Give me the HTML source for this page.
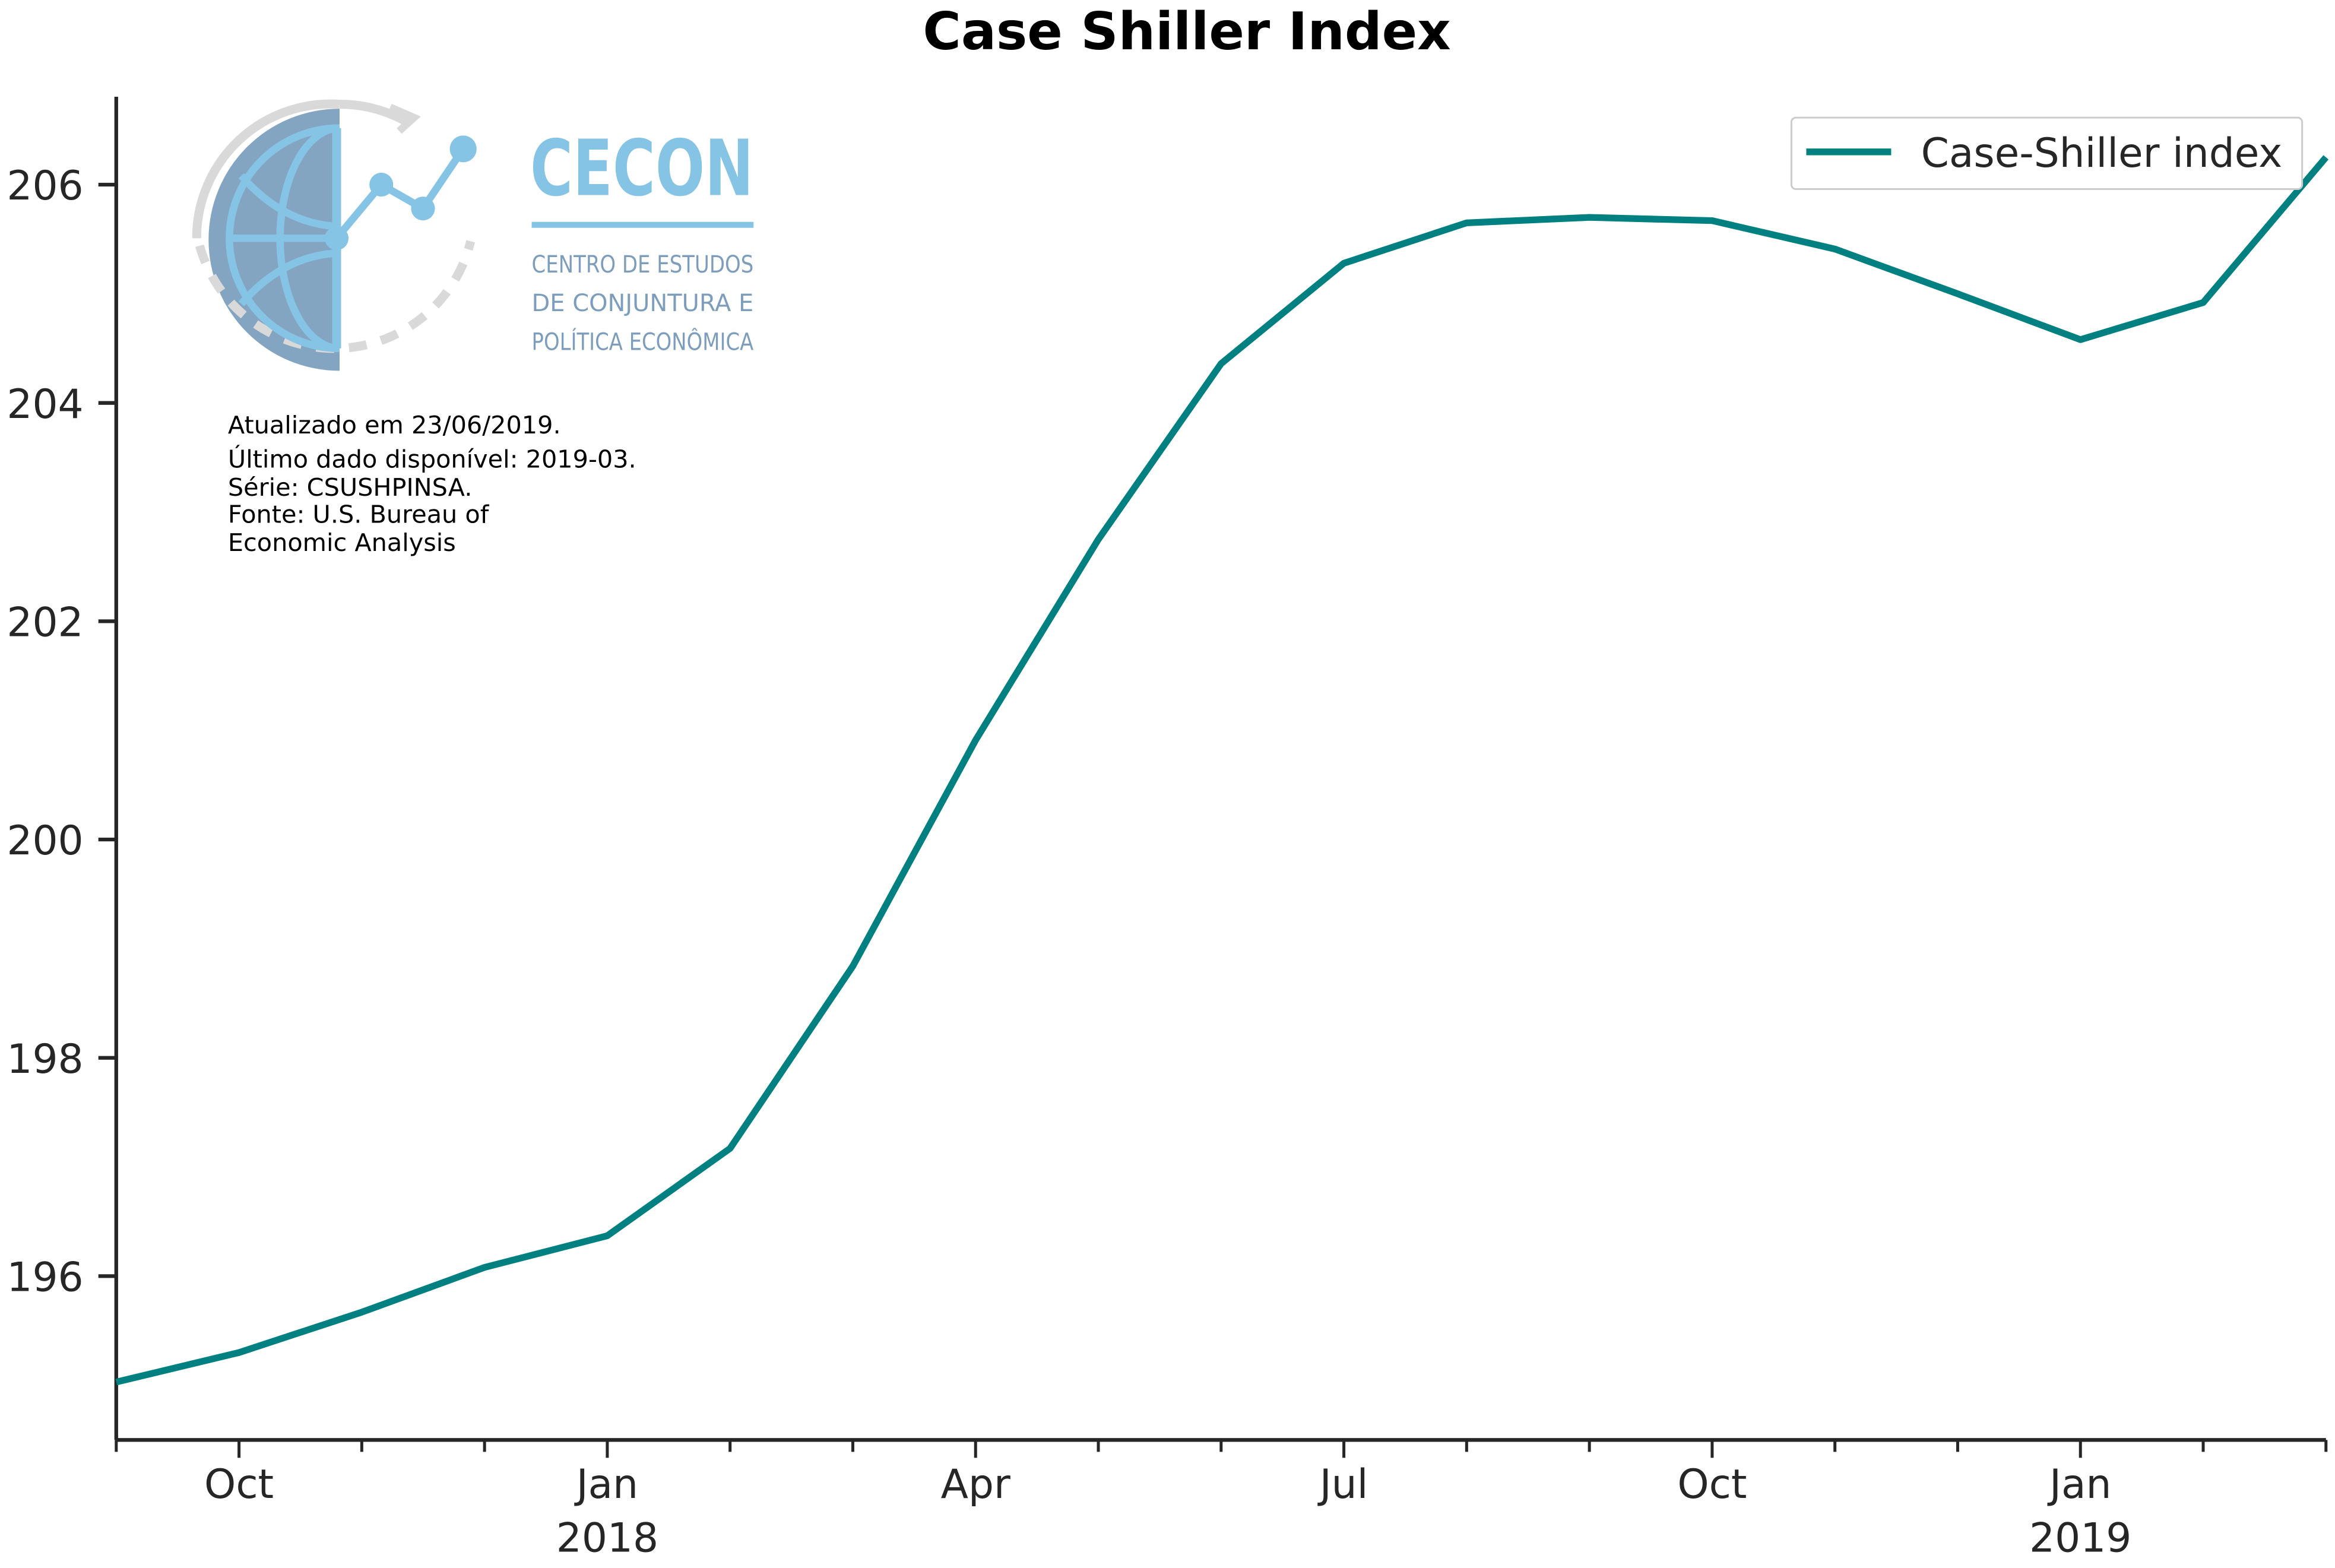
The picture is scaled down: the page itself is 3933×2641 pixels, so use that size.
<!DOCTYPE html>
<html><head><meta charset="utf-8"><style>
html,body{margin:0;padding:0;background:#fff;}
svg{display:block;}
text{font-family:"DejaVu Sans","Liberation Sans",sans-serif;}
</style></head><body>
<svg id="chart" width="3933" height="2641" viewBox="0 0 1568 1053" xmlns="http://www.w3.org/2000/svg">
<text x="797" y="33" text-anchor="middle" font-size="35" font-weight="bold" fill="#000">Case Shiller Index</text>
<g>
  <path d="M228,73 A88,88 0 0,0 228,249 Z" fill="#84a5c1"/>
  <path d="M228,70 A90,90 0 0,0 132,160" fill="none" stroke="#d9d9d9" stroke-width="6"/>
  <path d="M228,70 A90,90 0 0,1 275,83" fill="none" stroke="#d9d9d9" stroke-width="6"/>
  <path d="M262,72 L278,79 L268,88" fill="none" stroke="#d9d9d9" stroke-width="5"/>
  <path d="M134,165 A94,94 0 0,0 316,162" fill="none" stroke="#d9d9d9" stroke-width="6" stroke-dasharray="12,10"/>
  <path d="M228,86 A74,74 0 0,0 228,234" fill="none" stroke="#86c4e6" stroke-width="5"/>
  <path d="M228,86 A40,74 0 0,0 228,234" fill="none" stroke="#86c4e6" stroke-width="5"/>
  <line x1="152" y1="160" x2="228" y2="160" stroke="#86c4e6" stroke-width="5"/>
  <line x1="226" y1="86" x2="226" y2="234" stroke="#86c4e6" stroke-width="6"/>
  <path d="M162,118 Q190,150 226,152" fill="none" stroke="#86c4e6" stroke-width="5"/>
  <path d="M162,204 Q190,172 226,170" fill="none" stroke="#86c4e6" stroke-width="5"/>
  <polyline points="226,160 256,124 284,140 311,100" fill="none" stroke="#86c4e6" stroke-width="5"/>
  <circle cx="226" cy="160" r="8" fill="#86c4e6"/><circle cx="256" cy="124" r="8" fill="#86c4e6"/>
  <circle cx="284" cy="140" r="8" fill="#86c4e6"/><circle cx="311" cy="100" r="9" fill="#86c4e6"/>
  <text x="356" y="131" font-size="52" font-weight="bold" font-family="'DejaVu Sans Condensed','Liberation Sans Narrow',sans-serif" fill="#86c4e6" textLength="150" lengthAdjust="spacingAndGlyphs">CECON</text>
  <rect x="357" y="149" width="149" height="4" fill="#86c4e6"/>
  <text x="357" y="183" font-size="16" fill="#7d9dbd" textLength="149" lengthAdjust="spacingAndGlyphs">CENTRO DE ESTUDOS</text>
  <text x="357" y="209" font-size="16" fill="#7d9dbd" textLength="149" lengthAdjust="spacingAndGlyphs">DE CONJUNTURA E</text>
  <text x="357" y="235" font-size="16" fill="#7d9dbd" textLength="149" lengthAdjust="spacingAndGlyphs">POLÍTICA ECONÔMICA</text>
</g>
<g font-size="16.5" fill="#000">
  <text x="153" y="291">Atualizado em 23/06/2019.</text>
  <text x="153" y="314">Último dado disponível: 2019-03.</text>
  <text x="153" y="333">Série: CSUSHPINSA.</text>
  <text x="153" y="351">Fonte: U.S. Bureau of</text>
  <text x="153" y="370">Economic Analysis</text>
</g>
<g id="axes"></g>
<g>
  <rect x="1203" y="79" width="343" height="48" rx="3" fill="#fff" stroke="#ccc" stroke-width="1.2"/>
  <line x1="1213" y1="102" x2="1270" y2="102" stroke="#008080" stroke-width="4.5"/>
  <text x="1290" y="112" font-size="27" fill="#262626">Case-Shiller index</text>
</g>
</svg>
<script>
const months = ["2017-09","2017-10","2017-11","2017-12","2018-01","2018-02","2018-03","2018-04","2018-05","2018-06","2018-07","2018-08","2018-09","2018-10","2018-11","2018-12","2019-01","2019-02","2019-03"];
const values = [195.03,195.30,195.67,196.08,196.37,197.17,198.84,200.91,202.75,204.36,205.28,205.65,205.70,205.67,205.41,205.00,204.58,204.92,206.25];
const yTicks = [196,198,200,202,204,206];
const xLabels = [[1,"Oct",""],[4,"Jan","2018"],[7,"Apr",""],[10,"Jul",""],[13,"Oct",""],[16,"Jan","2019"]];

const L=78,R=1562,T=65,B=967;
const xs = i => L + (R-L)*i/(months.length-1);
const ys = v => 124 + (206-v)*73.3;
const NS="http://www.w3.org/2000/svg";
const g=document.getElementById('axes');
function mk(tag,attrs){const e=document.createElementNS(NS,tag);for(const k in attrs)e.setAttribute(k,attrs[k]);g.appendChild(e);return e;}
let e;
e=mk('line',{x1:L,y1:T,x2:L,y2:B,stroke:'#262626','stroke-width':2.5});


e=mk('line',{x1:L,y1:B,x2:R,y2:B,stroke:'#262626','stroke-width':2.5});


yTicks.forEach(v=>{
  const y=ys(v);
  e=mk('line',{x1:L-12,y1:y,x2:L,y2:y,stroke:'#262626','stroke-width':2.5});
  
  
  e=mk('text',{x:L-22,y:y+10,'text-anchor':'end','font-size':27,fill:'#262626'});
  e.textContent=v;
  
  
});
months.forEach((m,i)=>{
  const x=xs(i);
  const major=xLabels.some(l=>l[0]===i);
  e=mk('line',{x1:x,y1:B,x2:x,y2:B+(major?12:8),stroke:'#262626','stroke-width':2});
  
  
});
xLabels.forEach(l=>{
  const x=xs(l[0]);
  e=mk('text',{x:x,y:1006,'text-anchor':'middle','font-size':27,fill:'#262626'});
  e.textContent=l[1];
  
  
  if(l[2]){
    e=mk('text',{x:x,y:1042,'text-anchor':'middle','font-size':27,fill:'#262626'});
    e.textContent=l[2];
    
    
  }
});
e=mk('polyline',{points:values.map((v,i)=>xs(i)+','+ys(v)).join(' '),fill:'none',stroke:'#008080','stroke-width':4.5,'stroke-linejoin':'round'});


</script>
</body></html>
